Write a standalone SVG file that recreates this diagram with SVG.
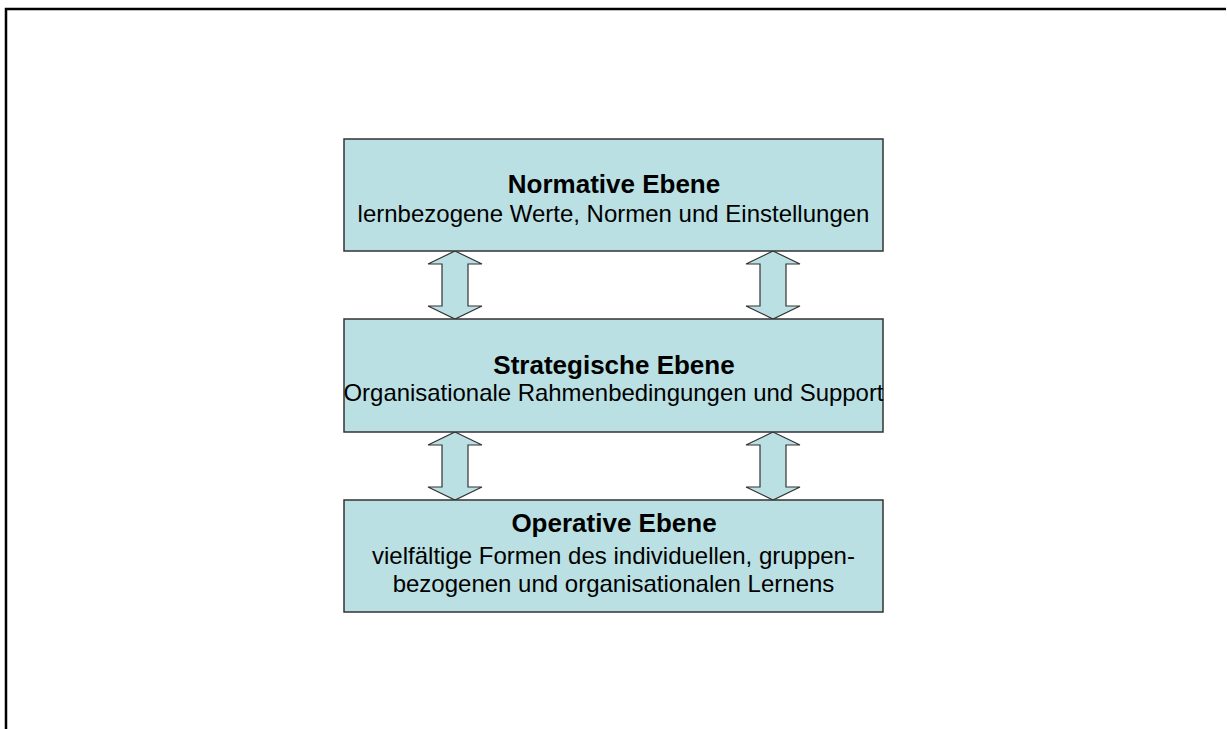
<svg xmlns="http://www.w3.org/2000/svg" width="1227" height="729" viewBox="0 0 1227 729">
  <style>
    .frame { fill: none; stroke: #000; stroke-width: 2.5; }
    .level { fill: #BAE0E3; stroke: #333; stroke-width: 1.5; }
    .link { fill: #BAE0E3; stroke: #333; stroke-width: 1.2; stroke-linejoin: miter; }
    .title { font-family: "Liberation Sans", Arial, sans-serif; font-weight: bold; font-size: 26px; fill: #000; text-anchor: middle; }
    .desc { font-family: "Liberation Sans", Arial, sans-serif; font-size: 24px; fill: #000; text-anchor: middle; }
  </style>
  <defs>
    <!-- double-headed block arrow, 68 px tall, centred on x=0 -->
    <polygon id="dbl" points="0,0 27,13 13,13 13,55 27,55 0,68 -27,55 -13,55 -13,13 -27,13"/>
  </defs>

  <rect width="1227" height="729" fill="#fff"/>
  <path class="frame" d="M6,729 V9 H1226"/>

  <g id="connectors">
    <use href="#dbl" class="link" x="455" y="251"/>
    <use href="#dbl" class="link" x="773" y="251"/>
    <use href="#dbl" class="link" x="455" y="432"/>
    <use href="#dbl" class="link" x="773" y="432"/>
  </g>

  <g id="normative">
    <rect class="level" x="344" y="139" width="539" height="112"/>
    <text class="title" x="614" y="193">Normative Ebene</text>
    <text class="desc" x="613.5" y="222">lernbezogene Werte, Normen und Einstellungen</text>
  </g>

  <g id="strategisch">
    <rect class="level" x="344" y="319" width="539" height="113"/>
    <text class="title" x="614" y="374">Strategische Ebene</text>
    <text class="desc" x="613.5" y="401" textLength="540" lengthAdjust="spacingAndGlyphs">Organisationale Rahmenbedingungen und Support</text>
  </g>

  <g id="operativ">
    <rect class="level" x="344" y="500" width="539" height="112"/>
    <text class="title" x="614" y="532">Operative Ebene</text>
    <text class="desc" x="613.5" y="564">vielfältige Formen des individuellen, gruppen-</text>
    <text class="desc" x="613.5" y="592">bezogenen und organisationalen Lernens</text>
  </g>
</svg>
